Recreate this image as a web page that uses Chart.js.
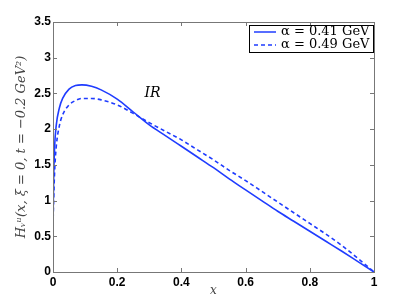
<!DOCTYPE html>
<html>
<head>
<meta charset="utf-8">
<script src="https://cdn.jsdelivr.net/npm/chart.js@4"></script>
<style>
  html, body { margin: 0; padding: 0; background: #fff; }
  #wrap { width: 415px; height: 307px; }
</style>
</head>
<body>
<div id="wrap"><canvas id="hChart" width="415" height="307"></canvas></div>
<script>
'use strict';

// momentum fraction x
const xs = [0, 0.002, 0.005, 0.01, 0.02, 0.03, 0.05, 0.07, 0.09, 0.12, 0.15, 0.2, 0.25, 0.3,
  0.35, 0.4, 0.45, 0.5, 0.55, 0.6, 0.65, 0.7, 0.75, 0.8, 0.85, 0.9, 0.95, 1];
// alpha = 0.41 GeV (solid)
const hSolid = [0.65, 1.3, 1.75, 2.05, 2.3, 2.43, 2.56, 2.61, 2.62, 2.6, 2.55, 2.42, 2.24, 2.06,
  1.91, 1.76, 1.61, 1.46, 1.3, 1.15, 1.0, 0.85, 0.71, 0.57, 0.43, 0.29, 0.145, 0];
// alpha = 0.49 GeV (dashed)
const hDashed = [0.65, 1.0, 1.4, 1.75, 2.05, 2.2, 2.34, 2.4, 2.43, 2.43, 2.41, 2.34, 2.22, 2.09,
  1.97, 1.85, 1.71, 1.57, 1.42, 1.28, 1.13, 0.98, 0.83, 0.68, 0.53, 0.37, 0.19, 0];
const seriesLabels = ['\u03b1 = 0.41 GeV', '\u03b1 = 0.49 GeV'];
const xTicks = [0, 0.2, 0.4, 0.6, 0.8, 1];
const yTicks = [0, 0.5, 1, 1.5, 2, 2.5, 3, 3.5];

const blue = '#1f3cff';

function pts(ys) {
  return xs.map((x, i) => ({x: x, y: ys[i]}));
}

// frame, inward ticks, legend box and the IR note
const decor = {
  id: 'decor',
  afterDatasetsDraw(chart) {
    const ctx = chart.ctx;
    const a = chart.chartArea;
    const sx = chart.scales.x, sy = chart.scales.y;
    ctx.save();
    ctx.strokeStyle = '#777';
    ctx.lineWidth = 1;
    ctx.strokeRect(a.left + 0.5, a.top + 0.5, a.right - a.left, a.bottom - a.top);
    ctx.beginPath();
    xTicks.forEach(v => {
      const p = Math.round(sx.getPixelForValue(v)) + 0.5;
      ctx.moveTo(p, a.bottom); ctx.lineTo(p, a.bottom - 4);
      ctx.moveTo(p, a.top); ctx.lineTo(p, a.top + 4);
    });
    yTicks.forEach(v => {
      const p = Math.round(sy.getPixelForValue(v)) + 0.5;
      ctx.moveTo(a.left, p); ctx.lineTo(a.left + 4, p);
      ctx.moveTo(a.right, p); ctx.lineTo(a.right - 4, p);
    });
    ctx.stroke();

    // legend
    const lx = a.right - 125, ly = a.top + 3, lw = 124, lh = 27;
    ctx.fillStyle = '#fff';
    ctx.fillRect(lx, ly, lw, lh);
    ctx.strokeStyle = '#000';
    ctx.strokeRect(lx + 0.5, ly + 0.5, lw, lh);
    ctx.font = '13px "DejaVu Serif", serif';
    ctx.textBaseline = 'middle';
    chart.data.datasets.forEach((ds, i) => {
      const yy = ly + 7 + i * 13;
      ctx.strokeStyle = blue;
      ctx.lineWidth = 1.5;
      ctx.setLineDash(ds.borderDash || []);
      ctx.beginPath();
      ctx.moveTo(lx + 5, yy); ctx.lineTo(lx + 27, yy);
      ctx.stroke();
      ctx.setLineDash([]);
      ctx.fillStyle = '#000';
      ctx.fillText(ds.label, lx + 32, yy);
    });

    ctx.font = 'italic 14px "DejaVu Serif", serif';
    ctx.fillStyle = '#000';
    ctx.textAlign = 'center';
    ctx.fillText('IR', sx.getPixelForValue(0.31), sy.getPixelForValue(2.5));
    ctx.restore();
  }
};

const tickFont = {family: '"Liberation Sans", Arial, sans-serif', size: 12, weight: 'bold'};

new Chart(document.getElementById('hChart').getContext('2d'), {
  type: 'line',
  data: {
    datasets: [{
      label: seriesLabels[0],
      data: pts(hSolid),
      borderColor: blue,
      borderWidth: 1.6,
      pointRadius: 0,
      cubicInterpolationMode: 'monotone'
    },
    {
      label: seriesLabels[1],
      data: pts(hDashed),
      borderColor: blue,
      borderWidth: 1.6,
      borderDash: [4, 3],
      pointRadius: 0,
      cubicInterpolationMode: 'monotone'
    }]
  },
  options: {
    responsive: false,
    animation: false,
    layout: {padding: {left: 14, top: 22, right: 41, bottom: 0}},
    plugins: {legend: {display: false}, tooltip: {enabled: false}},
    scales: {
      x: {
        type: 'linear',
        min: 0,
        max: 1,
        afterBuildTicks: s => { s.ticks = xTicks.map(v => ({value: v})); },
        afterFit: s => { s.height = 35; },
        grid: {display: false, drawTicks: false},
        border: {display: false},
        ticks: {color: '#000', font: tickFont, padding: 3, maxRotation: 0,
          callback: v => String(+v.toFixed(1))},
        title: {display: true, text: 'x', color: '#444',
          font: {family: '"DejaVu Serif", serif', style: 'italic', size: 12},
          padding: {top: 0, bottom: 9}}
      },
      y: {
        min: 0,
        max: 3.5,
        afterBuildTicks: s => { s.ticks = yTicks.map(v => ({value: v})); },
        afterFit: s => { s.width = 39; },
        grid: {display: false, drawTicks: false},
        border: {display: false},
        ticks: {color: '#000', font: tickFont, padding: 2,
          callback: v => String(+v.toFixed(1))},
        title: {display: true, text: 'H\u1d65\u1d58(x, \u03be = 0, t = \u22120.2 GeV\u00b2)', color: '#444',
          font: {family: '"DejaVu Serif", serif', style: 'italic', size: 13},
          padding: {top: 0, bottom: 0}}
      }
    }
  },
  plugins: [decor]
});
</script>
</body>
</html>
